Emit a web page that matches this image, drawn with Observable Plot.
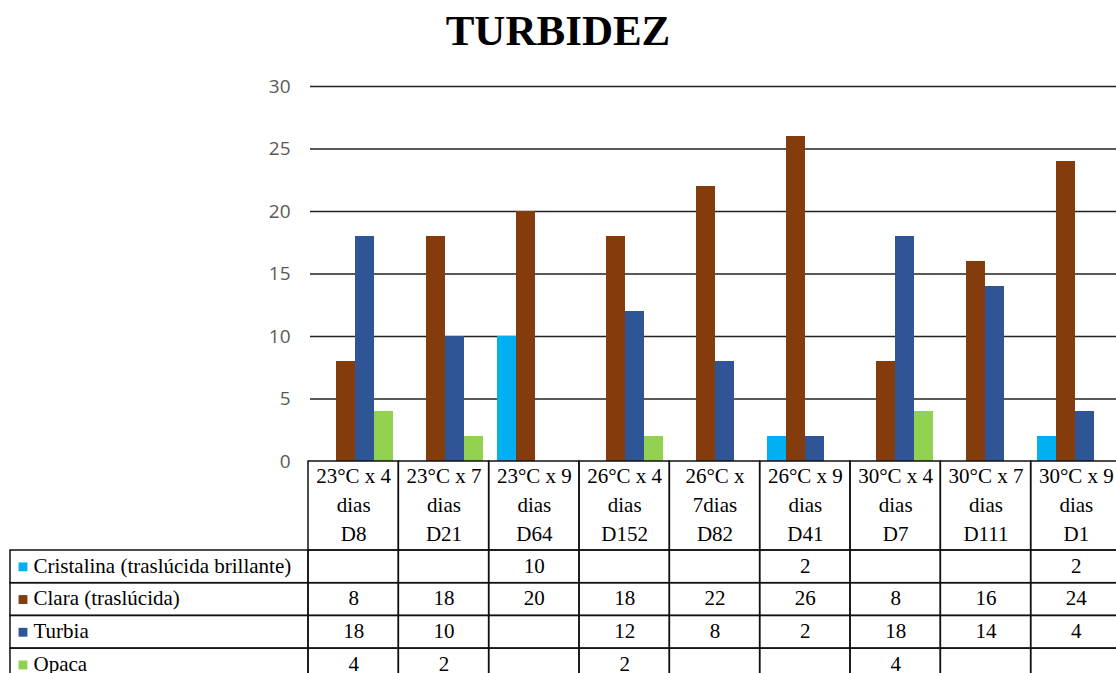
<!DOCTYPE html>
<html>
<head>
<meta charset="utf-8">
<script src="https://cdn.jsdelivr.net/npm/d3@7"></script>
<script src="https://cdn.jsdelivr.net/npm/@observablehq/plot@0.6"></script>
<style>
  body { margin: 0; background: white; }
  #title { height: 62px; line-height: 62px; text-align: center; font-family: "Liberation Serif", serif; font-weight: bold; font-size: 43px; color: #000; }
  svg { display: block; }
</style>
</head>
<body>
<div id="title">TURBIDEZ</div>
<div id="chart"></div>
<script>
// ---- data ----
const categories = ["D8", "D21", "D64", "D152", "D82", "D41", "D7", "D111", "D1"];
const headerLine1 = ["23°C x 4", "23°C x 7", "23°C x 9", "26°C x 4", "26°C x", "26°C x 9", "30°C x 4", "30°C x 7", "30°C x 9"];
const headerLine2 = ["dias", "dias", "dias", "dias", "7dias", "dias", "dias", "dias", "dias"];
const seriesNames = ["Cristalina (traslúcida brillante)", "Clara (traslúcida)", "Turbia", "Opaca"];
const cristalina = [null, null, 10, null, null, 2, null, null, 2];
const clara = [8, 18, 20, 18, 22, 26, 8, 16, 24];
const turbia = [18, 10, null, 12, 8, 2, 18, 14, 4];
const opaca = [4, 2, null, 2, null, null, 4, null, null];
const yTicks = [0, 5, 10, 15, 20, 25, 30];
const seriesColors = ["#00B0F0", "#843C0C", "#2F5597", "#92D050"];

// ---- build table ----
const seriesValues = [cristalina, clara, turbia, opaca];
const long = [];
seriesNames.forEach((s, si) => categories.forEach((c, ci) => {
  long.push({series: s, si, cat: c, ci, value: seriesValues[si][ci]});
}));
const barsData = long.filter(d => d.value != null);

const W = 1116;
const left = 308;
const rightOverflow = -5;

// ---- chart ----
const chart = Plot.plot({
  width: W,
  height: 399,
  marginTop: 24,
  marginBottom: 0,
  marginLeft: left,
  marginRight: rightOverflow,
  style: {fontFamily: "'Open Sans', sans-serif", fontSize: "19px", color: "#595959", overflow: "visible", background: "transparent"},
  fx: {domain: categories, padding: 0, axis: null, label: null},
  x: {domain: seriesNames, paddingInner: 0, paddingOuter: 0.26, axis: null, label: null},
  y: {domain: [0, 30], label: null},
  color: {domain: seriesNames, range: seriesColors},
  marks: [
    Plot.gridY(yTicks.filter(t => t > 0), {stroke: "#222", strokeOpacity: 1, strokeWidth: 1.7}),
    Plot.axisY(yTicks, {tickSize: 0, tickPadding: 20, label: null, fill: "#595959"}),
    Plot.barY(barsData, {fx: "cat", x: "series", y: "value", fill: "series"})
  ]
});

// ---- data table ----
const headerH = 89;
const rowH = 32.7;
const labelColW = 298 / 90.33; // in column units
const headerCells = categories.map((c, i) => ({x1: i, x2: i + 1, y1: 0, y2: headerH, i}));
const dataCells = long.map(d => ({x1: d.ci, x2: d.ci + 1, y1: headerH + d.si * rowH, y2: headerH + (d.si + 1) * rowH, ...d}));
const labelCells = seriesNames.map((s, si) => ({x1: -labelColW, x2: 0, y1: headerH + si * rowH, y2: headerH + (si + 1) * rowH, series: s}));
const serif = "'Liberation Serif', 'Times New Roman', serif";

const table = Plot.plot({
  width: W,
  height: 225,
  marginTop: 0,
  marginBottom: 0,
  marginLeft: left,
  marginRight: rightOverflow,
  style: {overflow: "visible", background: "transparent"},
  x: {type: "linear", domain: [0, categories.length], axis: null},
  y: {type: "linear", domain: [0, 225], range: [0, 225], axis: null},
  color: {domain: seriesNames, range: seriesColors},
  marks: [
    Plot.rect([...headerCells, ...dataCells, ...labelCells], {x1: "x1", x2: "x2", y1: "y1", y2: "y2", fill: "none", stroke: "#111", strokeWidth: 1.5}),
    Plot.text(headerCells, {x: d => d.i + 0.5, y: 41.5, text: d => headerLine1[d.i] + "\n" + headerLine2[d.i] + "\n" + categories[d.i], lineHeight: 1.38, fontSize: 21, fontFamily: serif, fill: "#000"}),
    Plot.text(dataCells.filter(d => d.value != null), {x: d => d.x1 + 0.5, y: d => (d.y1 + d.y2) / 2 - 1, text: d => String(d.value), fontSize: 21, fontFamily: serif, fill: "#000"}),
    Plot.dot(labelCells, {x: "x1", y: d => (d.y1 + d.y2) / 2, dx: 12.5, symbol: "square", r: 5, fill: "series", stroke: null}),
    Plot.text(labelCells, {x: "x1", y: d => (d.y1 + d.y2) / 2 - 1, dx: 23, text: "series", textAnchor: "start", fontSize: 21, fontFamily: serif, fill: "#000"})
  ]
});

const host = document.getElementById("chart");
host.appendChild(chart);
host.appendChild(table);
</script>
</body>
</html>
